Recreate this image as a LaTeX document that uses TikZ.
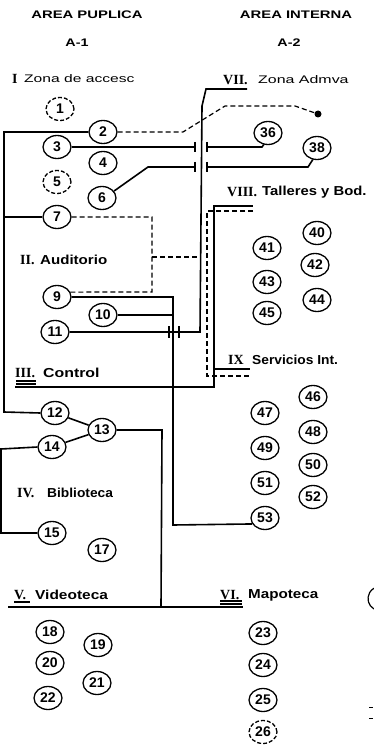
\documentclass[tikz,border=0pt]{standalone}
\usepackage{fontspec}
\setsansfont{Liberation Sans}
\newfontfamily\romfont{Liberation Serif}
\usepackage{graphicx}
\usetikzlibrary{shapes.geometric}
\newcommand{\hstretch}[2]{\scalebox{#1}[1]{#2}}
\tikzset{
  num/.style={ellipse, draw, line width=1.3pt, minimum width=28pt, minimum height=23pt, inner sep=0pt,
    font=\sffamily\bfseries\fontsize{14}{14}\selectfont},
  numd/.style={num, dash pattern=on 4pt off 2pt},
  conn/.style={line width=1.6pt},
  dconn/.style={line width=1.2pt, dash pattern=on 5pt off 3pt},
  uline/.style={line width=1.3pt},
  lbl/.style={anchor=west, inner sep=0pt, font=\sffamily\bfseries\fontsize{13}{14}\selectfont},
  rom/.style={anchor=west, inner sep=0pt, font=\romfont\bfseries\fontsize{14}{14}\selectfont},
  hdr/.style={inner sep=0pt, font=\sffamily\bfseries\fontsize{11}{13}\selectfont},
  zon/.style={anchor=west, inner sep=0pt, font=\sffamily\fontsize{11}{13}\selectfont},
}
\begin{document}
\begin{tikzpicture}[x=1pt,y=-1pt]
\fill[white] (0,0) rectangle (373,746);
\useasboundingbox (0,0) rectangle (373,746);

% headers
\node[hdr] (h1) at (87,15) {\hstretch{1.35}{AREA PUPLICA}};
\node[hdr] (h2) at (296,15) {\hstretch{1.35}{AREA INTERNA}};
\node[hdr] (a1) at (77,43) {\hstretch{1.3}{A-1}};
\node[hdr] (a2) at (289,43) {\hstretch{1.3}{A-2}};

% zone labels
\node[rom] (r1) at (12,79) {I};
\node[zon] (t1) at (24,79) {\hstretch{1.42}{Zona de accesc}};
\node[rom] (r7) at (223,80) {VII.};
\node[zon] (t7) at (258,80) {\hstretch{1.45}{Zona Admva}};
\node[rom] (r8) at (227,192) {VIII.};
\node[lbl] (t8) at (262,192) {\hstretch{1.14}{Talleres y Bod.}};
\node[rom] (r2) at (20,260) {II.};
\node[lbl] (t2) at (40,260) {\hstretch{1.16}{Auditorio}};
\node[rom] (r9) at (228,360) {IX};
\node[lbl] (t9) at (252,360) {\hstretch{1.06}{Servicios Int.}};
\node[rom] (r3) at (15,373) {III.};
\node[lbl] (t3) at (43,373) {\hstretch{1.22}{Control}};
\node[rom] (r4) at (17,493) {IV.};
\node[lbl] (t4) at (47,493) {\hstretch{1.06}{Biblioteca}};
\node[rom] (r5) at (14,595) {V.};
\node[lbl] (t5) at (35,595) {\hstretch{1.19}{Videoteca}};
\node[rom] (r6) at (220,595) {VI.};
\node[lbl] (t6) at (248,595) {\hstretch{1.17}{Mapoteca}};

% numbered circles
\node[numd] (n1) at (60,109) {1};
\node[num] (n2) at (103,132) {2};
\node[num] (n3) at (57,147) {3};
\node[num] (n4) at (103,163) {4};
\node[numd] (n5) at (57,182) {5};
\node[num] (n6) at (102,198) {6};
\node[num] (n7) at (57,217) {7};
\node[num] (n9) at (57,297) {9};
\node[num] (n10) at (103,315) {10};
\node[num] (n11) at (55,332) {11};
\node[num] (n12) at (55,413) {12};
\node[num] (n13) at (102,430) {13};
\node[num] (n14) at (52,447) {14};
\node[num] (n15) at (52,533) {15};
\node[num] (n17) at (102,550) {17};
\node[num] (n18) at (50,632) {18};
\node[num] (n19) at (98,645) {19};
\node[num] (n20) at (50,663) {20};
\node[num] (n21) at (97,683) {21};
\node[num] (n22) at (48,698) {22};
\node[num] (n23) at (263,633) {23};
\node[num] (n24) at (263,665) {24};
\node[num] (n25) at (263,700) {25};
\node[numd] (n26) at (263,732) {26};
\node[num] (n36) at (268,133) {36};
\node[num] (n38) at (317,148) {38};
\node[num] (n40) at (317,233) {40};
\node[num] (n41) at (267,248) {41};
\node[num] (n42) at (315,265) {42};
\node[num] (n43) at (267,282) {43};
\node[num] (n44) at (317,300) {44};
\node[num] (n45) at (267,313) {45};
\node[num] (n46) at (313,397) {46};
\node[num] (n47) at (265,413) {47};
\node[num] (n48) at (313,432) {48};
\node[num] (n49) at (265,448) {49};
\node[num] (n50) at (313,465) {50};
\node[num] (n51) at (265,483) {51};
\node[num] (n52) at (313,497) {52};
\node[num] (n53) at (265,518) {53};
\node[circle, fill, inner sep=0pt, minimum size=7pt] (blob) at (318,114) {};

% connectors
\draw[conn] (n2.west) -- (4,132) -- (4,412) -- (n12.west);
\draw[conn] (4,217) -- (n7.west);
\draw[dconn] (n2.east) -- (183,132) -- (225,106) -- (295,106) -- (blob);
\draw[conn] (n3.east) -- (195,147);
\draw[conn] (195,142) -- (195,152);
\draw[conn] (207,142) -- (207,152);
\draw[conn] (207,147) -- (262,147) -- (n36.250);
\draw[conn] (n6.30) -- (148,167) -- (195,167);
\draw[line width=2.2pt] (195,162) -- (195,172);
\draw[line width=2.2pt] (207,162) -- (207,172);
\draw[conn] (207,167) -- (308,167) -- (n38.250);
% main vertical to VII
\draw[conn] (n11.east) -- (200,332) -- (202,106) -- (206,89) -- (247,89);
\draw[line width=2.2pt] (169,326) -- (169,338);
\draw[line width=2.2pt] (179,326) -- (179,338);
% auditorio dashed
\draw[dconn] (n7.east) -- (152,217) -- (152,292) -- (n9.20);
\draw[dconn] (152,257) -- (200,257);
% 9 and 10
\draw[conn] (n9.east) -- (173,297) -- (173,525) -- (n53.205);
\draw[conn] (n10.east) -- (173,315);
% control / talleres / servicios
\draw[conn] (15,387) -- (214,387) -- (214,206) -- (253,206);
\draw[dconn] (253,211) -- (207,211) -- (207,376) -- (250,376);
\draw[uline] (214,369) -- (250,369);
\draw[uline] (16,381) -- (36,381);
\draw[uline] (16,384) -- (36,384);
% 12-13-14
\draw[conn] (n12) -- (n13);
\draw[conn] (n14) -- (n13);
\draw[conn] (n13.east) -- (162,430) -- (161,607);
\draw[conn] (n14.west) -- (1,449) -- (1,533) -- (n15.west);
% videoteca / mapoteca
\draw[conn] (8,607) -- (243,607);
\draw[uline] (14,602) -- (30,602);
\draw[uline] (220,601) -- (242,601);
\draw[uline] (220,604) -- (242,604);
% fragments at right edge
\draw[line width=1.2pt] (374,609) arc[start angle=120, end angle=240, radius=12];
\draw[line width=1pt] (369,707) -- (373,707);
\draw[line width=1pt] (369,718) -- (373,718);
\end{tikzpicture}
\end{document}
